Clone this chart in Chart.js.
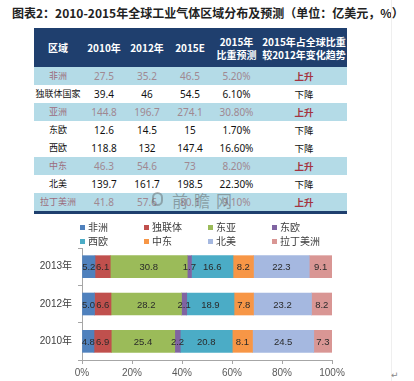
<!DOCTYPE html>
<html>
<head>
<meta charset="utf-8">
<script src="https://cdn.jsdelivr.net/npm/chart.js@4/dist/chart.umd.min.js"></script>
<style>
  body { margin: 0; width: 414px; height: 381px; background: #fff; position: relative; overflow: hidden;
         font-family: "Noto Sans", "Noto Sans CJK SC", sans-serif; }
  #title { position: absolute; left: 12px; top: 4px; font: bold 12px "Noto Sans CJK SC", sans-serif;
           color: #222; white-space: nowrap; line-height: 17px; }
  #tbl { position: absolute; left: 34px; top: 28px; width: 313px; border-collapse: collapse;
         table-layout: fixed; border-bottom: 3px solid #1f3f6e; }
  #tbl th { background: #1f3f6e; color: #fff; font: bold 10px "Noto Sans CJK SC", sans-serif;
            height: 39px; padding: 0; line-height: 13px; text-align: center; white-space: nowrap; overflow: hidden; }
  #tbl td { height: 18px; padding: 0; text-align: center; font-size: 10px; color: #111; line-height: 18px;
            white-space: nowrap; overflow: hidden; }
  #tbl tr.hl td { background: #b4dbe7; color: #a08891; }
  #tbl tr.hl td.name { color: #9c6b7c; }
  #tbl td.name { font-family: "Noto Sans CJK SC", sans-serif; font-size: 9px; }
  #tbl td.up { color: #a4343f !important; font-weight: bold; font-family: "Noto Sans CJK SC", sans-serif; font-size: 9.5px; }
  #tbl td.down { font-family: "Noto Sans CJK SC", sans-serif; font-size: 9.5px; }
  #wm { position: absolute; left: 172px; top: 188px; font: 16px "Noto Sans CJK SC", sans-serif;
        letter-spacing: 6px; color: rgba(80, 80, 80, 0.45); }
  #logo { position: absolute; left: 152px; top: 192px; width: 11px; height: 14px; border-radius: 6px;
          border: 2px solid rgba(80, 80, 80, 0.4); box-sizing: border-box; }
  #chartBox { position: absolute; left: 0; top: 215px; width: 414px; height: 166px; }
  #legend { position: absolute; left: 0; top: 220px; }
  .lg { position: absolute; white-space: nowrap; font: 10px "Noto Sans CJK SC", sans-serif; color: #404040; line-height: 14px; }
  .lg i { display: inline-block; width: 5px; height: 5px; margin-right: 3px; vertical-align: 1px; }
  #vline { position: absolute; left: 391px; top: 0; width: 1px; height: 381px; background: #efefef; }
  #ret { position: absolute; left: 391px; top: 370px; font: 9px "DejaVu Sans", sans-serif; color: #888; }
</style>
</head>
<body>
<div id="title">图表2：2010-2015年全球工业气体区域分布及预测（单位：亿美元，%）</div>
<table id="tbl">
  <colgroup>
    <col style="width:48px"><col style="width:44px"><col style="width:42px">
    <col style="width:44px"><col style="width:49px"><col style="width:86px">
  </colgroup>
  <thead>
    <tr><th>区域</th><th>2010年</th><th>2012年</th><th>2015E</th><th>2015年<br>比重预测</th><th>2015年占全球比重<br>较2012年变化趋势</th></tr>
  </thead>
  <tbody id="tbody"></tbody>
</table>
<div id="logo"></div>
<div id="wm">前瞻网</div>
<div id="vline"></div>
<div id="ret">↵</div>
<div id="chartBox"><canvas id="chart"></canvas></div>
<div id="legend"></div>
<script>
// table data (亿美元)
const regions = ["非洲", "独联体国家", "亚洲", "东欧", "西欧", "中东", "北美", "拉丁美洲"];
const val2010 = ["27.5", "39.4", "144.8", "12.6", "118.8", "46.3", "139.7", "41.8"];
const val2012 = ["35.2", "46", "196.7", "14.5", "132", "54.6", "161.7", "57.6"];
const val2015E = ["46.5", "54.5", "274.1", "15", "147.4", "73", "198.5", "80.1"];
const share2015 = ["5.20%", "6.10%", "30.80%", "1.70%", "16.60%", "8.20%", "22.30%", "9.10%"];
const trend = ["上升", "下降", "上升", "下降", "下降", "上升", "下降", "上升"];

// chart data (share, %)
const years = ["2013年", "2012年", "2010年"];
const seriesNames = ["非洲", "独联体", "东亚", "东欧", "西欧", "中东", "北美", "拉丁美洲"];
const seriesValues = [
  [5.2, 5.0, 4.8],
  [6.1, 6.6, 6.9],
  [30.8, 28.2, 25.4],
  [1.7, 2.1, 2.2],
  [16.6, 18.9, 20.8],
  [8.2, 7.8, 8.1],
  [22.3, 23.2, 24.5],
  [9.1, 8.2, 7.3]
];
const xTicks = [0, 20, 40, 60, 80, 100];
const colors = ["#4f81bd", "#c0504d", "#9bbb59", "#8064a2", "#4bacc6", "#f79646", "#a5b8e0", "#d99694"];

// build table rows
const tbody = document.getElementById("tbody");
regions.forEach((r, i) => {
  const tr = document.createElement("tr");
  if (trend[i] === "上升") tr.className = "hl";
  const cells = [r, val2010[i], val2012[i], val2015E[i], share2015[i], trend[i]];
  cells.forEach((c, j) => {
    const td = document.createElement("td");
    td.textContent = c;
    if (j === 0) td.className = "name";
    if (j === 5) td.className = trend[i] === "上升" ? "up" : "down";
    tr.appendChild(td);
  });
  tbody.appendChild(tr);
});

// legend, 4 columns
const legend = document.getElementById("legend");
seriesNames.forEach((n, i) => {
  const d = document.createElement("div");
  d.className = "lg";
  d.style.left = (80 + (i % 4) * 64) + "px";
  d.style.top = (Math.floor(i / 4) * 14) + "px";
  d.innerHTML = `<i style="background:${colors[i]}"></i>${n}`;
  legend.appendChild(d);
});

// value labels in the middle of each segment
const segLabels = {
  id: "segLabels",
  afterDatasetsDraw(chart) {
    const ctx = chart.ctx;
    ctx.save();
    ctx.font = "9.5px 'Liberation Sans', sans-serif";
    ctx.fillStyle = "#2a2a2a";
    ctx.textAlign = "center";
    ctx.textBaseline = "middle";
    chart.data.datasets.forEach((ds, di) => {
      chart.getDatasetMeta(di).data.forEach((bar, k) => {
        ctx.fillText(ds.data[k].toFixed(1), (bar.x + bar.base) / 2, bar.y + 1);
      });
    });
    ctx.restore();
  }
};

const chart = new Chart(document.getElementById("chart"), {
  type: "bar",
  data: {
    labels: years,
    datasets: seriesNames.map((n, i) => ({
      label: n,
      data: seriesValues[i],
      backgroundColor: colors[i],
      borderWidth: 0,
      barThickness: 22
    }))
  },
  options: {
    indexAxis: "y",
    responsive: true,
    maintainAspectRatio: false,
    animation: false,
    layout: { padding: { top: 33, right: 82, left: 0, bottom: 0 } },
    plugins: { legend: { display: false }, tooltip: { enabled: false } },
    scales: {
      x: {
        stacked: true, min: 0, max: 100,
        afterBuildTicks: s => { s.ticks = xTicks.map(v => ({ value: v })); },
        ticks: { callback: v => v + "%", color: "#595959", font: { size: 10, family: "'Liberation Sans', sans-serif" }, padding: 3 },
        grid: { drawOnChartArea: false, tickLength: 4, color: "#a6a6a6" },
        border: { color: "#a6a6a6" },
        afterFit: s => { s.height = 21; }
      },
      y: {
        stacked: true,
        ticks: { color: "#404040", font: { size: 10, family: "'Liberation Sans', 'Noto Sans CJK SC', sans-serif" }, padding: 6 },
        grid: { offset: true, drawOnChartArea: false, tickLength: 4, color: "#a6a6a6" },
        border: { color: "#a6a6a6" },
        afterFit: s => { s.width = 82; }
      }
    }
  },
  plugins: [segLabels]
});
</script>
</body>
</html>
